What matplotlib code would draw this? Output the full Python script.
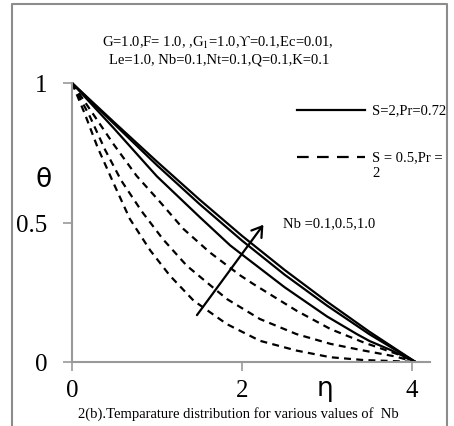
import numpy as np
import matplotlib
matplotlib.use("Agg")
import matplotlib.pyplot as plt
from matplotlib.lines import Line2D

# ---- data ----
# solid curves: S=2, Pr=0.72 (Nb = 0.1, 0.5, 1.0)
eta_s1 = [0, 0.5, 0.92, 1.0, 1.5, 1.86, 2.0, 2.5, 3.0, 3.35, 3.5, 3.74, 4.04]
th_s1  = [1, 0.835, 0.692, 0.665, 0.52, 0.418, 0.385, 0.268, 0.163, 0.100, 0.075, 0.044, 0.0]
eta_s2 = [0, 0.5, 1.0, 1.5, 2.0, 2.5, 3.0, 3.5, 4.04]
th_s2  = [1, 0.852, 0.705, 0.566, 0.435, 0.313, 0.202, 0.099, 0.0]
eta_s3 = [0, 0.5, 1.0, 1.5, 2.0, 2.5, 3.0, 3.5, 4.04]
th_s3  = [1, 0.858, 0.718, 0.582, 0.452, 0.33, 0.216, 0.108, 0.0]

# dashed curves: S=0.5, Pr=2 (Nb = 0.1, 0.5, 1.0)
eta_d1 = [0, 0.15, 0.3, 0.49, 0.68, 0.92, 1.15, 1.43, 1.82, 2.21, 2.64, 3.04, 3.43, 3.8, 4.04]
th_d1  = [1, 0.89, 0.77, 0.64, 0.513, 0.40, 0.31, 0.22, 0.136, 0.076, 0.041, 0.017, 0.007, 0.003, 0.0]
eta_d2 = [0, 0.21, 0.39, 0.58, 0.82, 1.07, 1.35, 1.82, 2.21, 2.64, 3.04, 3.43, 3.8, 4.04]
th_d2  = [1, 0.88, 0.76, 0.65, 0.54, 0.44, 0.345, 0.226, 0.154, 0.10, 0.065, 0.041, 0.02, 0.0]
eta_d3 = [0, 0.25, 0.49, 0.76, 1.04, 1.31, 1.62, 1.98, 2.13, 2.64, 3.04, 3.43, 3.82, 4.04]
th_d3  = [1, 0.888, 0.78, 0.667, 0.572, 0.477, 0.393, 0.31, 0.28, 0.184, 0.118, 0.07, 0.029, 0.0]

x_ticks = [0, 2, 4]
y_ticks = [0, 0.5, 1]
y_ticklabels = ["0", "0.5", "1"]

arrow_tail = (1.45, 0.16)
arrow_head = (2.27, 0.50)

serif = ["Liberation Serif", "DejaVu Serif"]
sans = ["DejaVu Sans"]

plt.rcParams["lines.scale_dashes"] = False
plt.rcParams["mathtext.fontset"] = "stix"

W, H = 454, 427
fig = plt.figure(figsize=(W / 100, H / 100), dpi=100)
ax = fig.add_axes([72 / W, 1 - 363 / H, (430 - 72) / W, (363 - 84) / H])

grey = "#999999"
lw = 1.6
for e, t in [(eta_s1, th_s1), (eta_s2, th_s2), (eta_s3, th_s3)]:
    ax.plot(e, t, color="black", lw=lw, clip_on=False, solid_capstyle="butt")
for e, t in [(eta_d1, th_d1), (eta_d2, th_d2), (eta_d3, th_d3)]:
    ax.plot(e, t, color="black", lw=lw, clip_on=False, dashes=(5, 3.8))

ax.set_xlim(0, 4.21)
ax.set_ylim(0, 1)
for s in ["top", "right"]:
    ax.spines[s].set_visible(False)
for s in ["left", "bottom"]:
    ax.spines[s].set_color(grey)
    ax.spines[s].set_linewidth(1.5)
ax.set_xticks(x_ticks)
ax.set_xticklabels([str(v) for v in x_ticks], fontfamily=serif, fontsize=18)
ax.set_yticks(y_ticks)
ax.set_yticklabels(y_ticklabels, fontfamily=serif, fontsize=18)
ax.tick_params(axis="both", direction="out", length=6.5, width=1.2, color=grey)
ax.tick_params(axis="y", pad=11)
ax.tick_params(axis="x", pad=6)

# axis labels
fig.text(44 / W, 1 - 180 / H, "θ", fontfamily=sans, fontsize=19, ha="center", va="center")
fig.text(325 / W, 1 - 389 / H, "η", fontfamily=sans, fontsize=19, ha="center", va="center")

# arrow & annotation
ax.annotate("", xy=arrow_head, xytext=arrow_tail,
            arrowprops=dict(arrowstyle="->,head_length=0.7,head_width=0.45", color="black", lw=1.6))
ax.text(2.48, 0.50, "Nb =0.1,0.5,1.0", fontfamily=serif, fontsize=10.5, ha="left", va="center")

# legend (drawn manually)
ax.add_line(Line2D([0.628, 0.818], [0.903, 0.903], transform=ax.transAxes, color="black", lw=1.6, clip_on=False))
ax.add_line(Line2D([0.628, 0.818], [0.736, 0.736], transform=ax.transAxes, color="black", lw=1.6,
                   clip_on=False, dashes=(8.4, 6.0)))
ax.text(0.838, 0.903, "S=2,Pr=0.72", transform=ax.transAxes, fontfamily=serif, fontsize=10.5, ha="left", va="center")
ax.text(0.838, 0.736, "S = 0.5,Pr =", transform=ax.transAxes, fontfamily=serif, fontsize=10.5, ha="left", va="center")
ax.text(0.838, 0.68, "2", transform=ax.transAxes, fontfamily=serif, fontsize=10.5, ha="left", va="center")

# parameter text
fig.text(218 / W, 1 - 43 / H, "G=1.0,F= 1.0, ,G$_1$=1.0,ϒ=0.1,Ec=0.01,", fontfamily=serif, fontsize=10.5,
         ha="center", va="center")
fig.text(219 / W, 1 - 60 / H, "Le=1.0, Nb=0.1,Nt=0.1,Q=0.1,K=0.1", fontfamily=serif, fontsize=10.5,
         ha="center", va="center")

# caption
fig.text(238 / W, 1 - 414 / H, "2(b).Temparature distribution for various values of  Nb", fontfamily=serif,
         fontsize=10.5, ha="center", va="center")

# outer frame (left, top, right)
frame_c = "#8c8c8c"
fig.add_artist(Line2D([12 / W, 12 / W, 447 / W, 447 / W], [0, 1 - 5 / H, 1 - 5 / H, 0],
                      transform=fig.transFigure, color=frame_c, lw=1.5))

fig.savefig("out.png", dpi=100)
